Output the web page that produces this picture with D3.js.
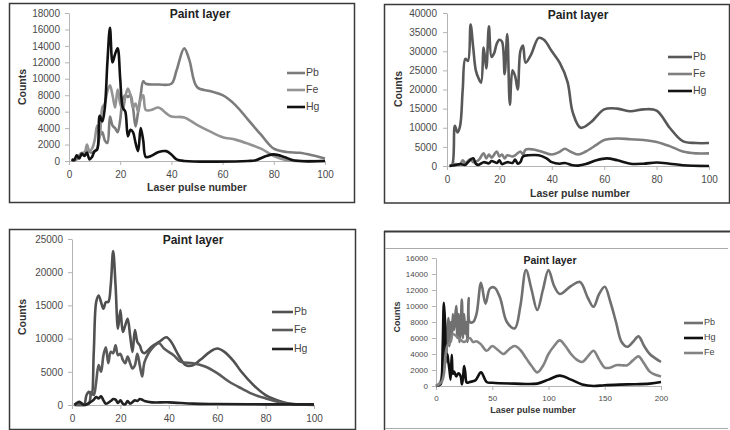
<!DOCTYPE html>
<html>
<head>
<meta charset="utf-8">
<script src="https://cdn.jsdelivr.net/npm/d3@7"></script>
<style>
  body { margin: 0; background: #fff; }
  svg { display: block; font-family: "Liberation Sans", Arial, sans-serif; }
</style>
</head>
<body>
<script>
/*
 * Four "Paint layer" panels: counts per laser pulse for Pb, Fe and Hg.
 */

const ELEMENTS_A = ['Pb', 'Fe', 'Hg'];
const ELEMENTS_D = ['Pb', 'Hg', 'Fe'];

// panel 1 (top left) - [pulse, counts]
const p1Pb = [[1,0],[3,200],[5,800],[7,1200],[9,1000],[11,1500],[12,3000],[13,3500],[14,2500],[15,2200],
  [16,5400],[17,4300],[18,4000],[19,3500],[20,5000],[21,7500],[22,8000],[23,7800],[24,8000],[25,6500],
  [26,4200],[27,6000],[28,8000],[29,9700],[30,9400],[35,9300],[40,9400],[42,11000],[45,13700],[47,12300],
  [50,9000],[55,8500],[60,8000],[65,6800],[70,5000],[75,3200],[80,1500],[85,1100],[90,1000],[95,700],[100,300]];
const p1Fe = [[1,100],[3,400],[5,1000],[6,800],[7,2000],[8,1200],[9,1500],[10,2500],[11,4300],[12,3000],
  [13,6500],[14,7000],[15,8500],[16,9200],[17,8000],[18,6500],[19,8700],[20,7000],[21,6200],[22,7800],
  [23,8800],[24,8000],[25,6500],[26,7000],[27,6000],[28,7500],[29,8000],[30,6200],[32,6200],[35,6500],
  [38,5800],[40,5400],[45,5300],[50,4400],[55,3600],[60,2900],[65,2600],[70,2100],[75,1500],[80,600],
  [85,100],[90,0],[100,0]];
const p1Hg = [[1,200],[2,100],[3,700],[4,300],[5,900],[6,600],[7,1000],[8,200],[9,500],[10,1200],
  [11,1400],[12,5500],[13,4800],[14,6500],[15,12000],[16,16200],[17,12000],[18,13000],[19,13700],[20,10000],
  [21,6500],[22,6000],[23,3000],[24,3800],[25,3500],[26,2200],[27,1200],[28,4000],[29,2500],[30,500],
  [32,600],[35,1100],[38,1200],[40,800],[42,200],[45,0],[70,0],[73,100],[77,600],[80,800],[84,500],
  [88,50],[100,0]];

// panel 2 (top right)
const p2Pb = [[1,0],[2,300],[3,10500],[4,8800],[5,10500],[6,20000],[7,28000],[8,27500],[9,37000],[10,31000],
  [11,25000],[12,23000],[13,21800],[14,31000],[15,25500],[16,36500],[17,28500],[18,29500],[19,32000],[20,33000],
  [21,32500],[22,24000],[23,34500],[24,16000],[25,25000],[26,23500],[27,20000],[28,30000],[29,31500],[30,27000],
  [32,29000],[35,33500],[37,33000],[40,30000],[43,27000],[46,22000],[48,14000],[51,10000],[55,11500],[60,14800],
  [65,15000],[70,14300],[75,14800],[80,14500],[85,10000],[90,6500],[95,6000],[100,6000]];
const p2Fe = [[1,0],[3,500],[5,500],[6,1500],[7,800],[9,1800],[10,1000],[12,1500],[14,3300],[15,2000],
  [16,3000],[17,2200],[19,3800],[20,2500],[21,3000],[22,2000],[23,2800],[25,2500],[26,2800],[28,3800],
  [29,3000],[30,4300],[33,4300],[36,3800],[40,3000],[43,3700],[45,4500],[47,3800],[50,3000],[53,3800],
  [57,5500],[60,6800],[65,7200],[70,7000],[75,6800],[80,6300],[85,5200],[90,3800],[95,3300],[100,3300]];
const p2Hg = [[1,0],[3,200],[5,500],[7,300],[8,1000],[10,2000],[11,600],[12,300],[14,1000],[16,700],
  [17,1300],[19,800],[20,1500],[21,500],[23,1000],[25,800],[26,1700],[27,600],[28,1000],[29,2500],
  [31,2800],[35,2800],[38,2000],[40,1000],[43,600],[45,800],[48,200],[50,100],[53,500],[57,1500],
  [61,2000],[65,1500],[70,600],[75,600],[80,900],[85,600],[90,200],[100,0]];

// panel 3 (bottom left)
const p3Pb = [[1,0],[3,300],[5,100],[6,1500],[7,2000],[8,1500],[9,8000],[10,15500],[11,16500],[12,15500],
  [13,14500],[14,15500],[15,15500],[16,18000],[17,23200],[18,18000],[19,11500],[20,14300],[21,11000],[22,12000],
  [23,13000],[24,10500],[25,8000],[26,11300],[27,9500],[28,9000],[29,8000],[30,7800],[33,8800],[36,9500],
  [39,10200],[41,9500],[44,7500],[47,6000],[50,6000],[53,6800],[57,8000],[60,8500],[63,8000],[67,6500],
  [70,5000],[75,3000],[80,1500],[85,700],[90,200],[95,100],[100,100]];
const p3Fe = [[1,0],[5,0],[7,200],[8,2000],[9,1500],[10,3500],[11,6000],[12,5000],[13,7500],[14,8700],
  [15,6300],[16,8000],[17,7800],[18,9000],[19,7500],[20,7700],[21,6800],[22,6300],[23,7300],[24,6300],
  [25,5500],[26,6000],[27,7700],[28,6000],[29,4300],[30,6500],[33,8500],[36,9300],[38,8500],[42,7500],
  [45,6500],[50,6300],[55,5800],[60,4800],[65,3500],[70,2500],[75,1600],[80,1000],[85,500],[90,200],[100,0]];
const p3Hg = [[1,0],[3,500],[5,0],[7,300],[9,800],[10,1200],[11,1000],[12,1300],[13,700],[14,200],
  [16,600],[17,900],[18,800],[19,300],[20,700],[21,200],[22,100],[23,600],[24,200],[26,700],
  [27,600],[28,900],[29,800],[30,600],[33,400],[40,400],[50,200],[60,150],[80,100],[100,100]];

// panel 4 (bottom right)
const p4Pb = [[0,0],[3,300],[5,1000],[6,3000],[7,8000],[8,6000],[9,3000],[10,7000],[11,8500],[12,5000],
  [13,8000],[14,6000],[15,9000],[16,7000],[17,8500],[18,10000],[19,6000],[20,9000],[21,5500],[22,7500],
  [23,10800],[24,6000],[25,9000],[26,6500],[27,8000],[28,5500],[29,11000],[30,8000],[33,8000],[36,9000],
  [40,12900],[44,10300],[48,12200],[52,12300],[57,11000],[63,8000],[70,7200],[75,10000],[80,14500],[85,12000],
  [90,9500],[95,12000],[100,14500],[105,12500],[110,11500],[120,12500],[128,13000],[135,11000],[140,9900],[145,11500],
  [150,12400],[155,10500],[160,8000],[165,5500],[170,4900],[175,5500],[180,6200],[185,5000],[190,4000],[200,3000]];
const p4Hg = [[0,0],[4,200],[5,800],[6,5000],[7,10400],[8,8000],[9,3500],[10,4000],[11,3000],[12,2000],
  [13,800],[14,3900],[15,1500],[16,1800],[17,1500],[18,1200],[20,1600],[22,1200],[23,200],[24,1000],
  [25,2500],[26,1700],[27,500],[28,400],[30,500],[35,700],[40,1700],[45,500],[50,400],[70,300],
  [90,300],[100,800],[110,1300],[120,800],[130,200],[140,0],[150,100],[170,200],[190,300],[200,500]];
const p4Fe = [[0,0],[5,500],[7,1500],[10,5000],[13,5500],[15,6500],[20,6000],[25,5500],[30,6000],[33,5500],
  [36,5600],[40,5200],[45,4400],[50,5000],[55,4500],[60,4000],[65,4600],[70,5000],[75,4500],[80,3500],
  [85,2500],[90,1700],[95,2500],[100,4000],[105,5000],[110,5700],[115,5000],[120,4000],[125,3300],[130,3000],
  [135,3700],[140,4400],[145,3300],[150,2300],[155,2300],[160,2600],[165,2600],[170,2600],[175,3200],[180,3700],
  [185,2800],[190,1800],[195,1400],[200,1200]];

// axis ticks
const TICKS_X100 = [0, 20, 40, 60, 80, 100];
const TICKS_X200 = [0, 50, 100, 150, 200];
const TICKS_Y18 = d3.range(0, 18001, 2000);
const TICKS_Y40 = d3.range(0, 40001, 5000);
const TICKS_Y25 = d3.range(0, 25001, 5000);
const TICKS_Y16 = d3.range(0, 16001, 2000);

const AXIS_COLOR = '#b4b4b4';
const LINE_WIDTH = 2.6;

const svg = d3.select('body')
  .append('svg')
    .attr('width', 730)
    .attr('height', 430);

/*
 * Frames round the panels.
 */

const addFrames = () => {
  const frame = (x, y, w, h) => svg.append('rect')
      .attr('x', x).attr('y', y).attr('width', w).attr('height', h)
      .attr('fill', 'none')
      .attr('stroke', '#3a3a3a')
      .attr('stroke-width', 1.5);

  frame(9.5, 3.5, 345, 199);
  frame(384.5, 4.5, 345, 198.5);
  frame(9.5, 229.5, 346, 200);

  // bottom right panel is cut off by the page, only some edges are seen
  svg.append('line')
      .attr('x1', 384).attr('x2', 730).attr('y1', 231.5).attr('y2', 231.5)
      .attr('stroke', '#3a3a3a').attr('stroke-width', 2);
  svg.append('line')
      .attr('x1', 384.5).attr('x2', 384.5).attr('y1', 231).attr('y2', 430)
      .attr('stroke', '#3a3a3a').attr('stroke-width', 1.5);
  svg.append('line')
      .attr('x1', 385).attr('x2', 728).attr('y1', 248.5).attr('y2', 248.5)
      .attr('stroke', '#aaa').attr('stroke-width', 1);
  svg.append('line')
      .attr('x1', 385).attr('x2', 728).attr('y1', 428.5).attr('y2', 428.5)
      .attr('stroke', '#aaa').attr('stroke-width', 1);
};

/*
 * Draws one panel: axes, lines, labels and legend.
 */

const drawPanel = p => {
  const g = svg.append('g');

  const xScale = d3.scaleLinear()
      .domain([p.xTicks[0], p.xTicks[p.xTicks.length - 1]])
      .range(p.xRange);
  const yScale = d3.scaleLinear()
      .domain([0, p.yTicks[p.yTicks.length - 1]])
      .range(p.yRange);

  // y axis
  const yAxis = g.append('g')
      .attr('transform', `translate(${p.xRange[0]}, 0)`)
      .call(d3.axisLeft(yScale)
        .tickValues(p.yTicks)
        .tickFormat(d3.format('d'))
        .tickSize(4)
        .tickPadding(p.tickPad)
        .tickSizeOuter(0));

  // x axis
  const xAxis = g.append('g')
      .attr('transform', `translate(0, ${p.yRange[0]})`)
      .call(d3.axisBottom(xScale)
        .tickValues(p.xTicks)
        .tickFormat(d3.format('d'))
        .tickSize(4)
        .tickPadding(p.tickPadX)
        .tickSizeOuter(0));

  [xAxis, yAxis].forEach(a => {
    a.selectAll('path, line').attr('stroke', AXIS_COLOR);
    a.selectAll('text')
        .attr('fill', '#4a4a4a')
        .attr('font-size', p.tickFont)
        .attr('font-family', '"Liberation Sans", Arial, sans-serif');
  });

  // data lines
  const line = d3.line()
      .x(d => xScale(d[0]))
      .y(d => yScale(d[1]))
      .curve(d3.curveCatmullRom.alpha(0.5));

  p.series.forEach(s => {
    g.append('path')
        .datum(s.values)
        .attr('d', line)
        .attr('fill', 'none')
        .attr('stroke', s.color)
        .attr('stroke-width', LINE_WIDTH)
        .attr('stroke-linejoin', 'round');
  });

  // title
  g.append('text')
      .attr('x', p.title[0])
      .attr('y', p.title[1])
      .attr('text-anchor', 'middle')
      .attr('dominant-baseline', 'middle')
      .attr('font-size', p.titleFont)
      .attr('font-weight', 'bold')
      .attr('fill', '#222')
      .text('Paint layer');

  // axis titles
  g.append('text')
      .attr('transform', `translate(${p.yTitle[0]}, ${p.yTitle[1]}) rotate(-90)`)
      .attr('text-anchor', 'middle')
      .attr('dominant-baseline', 'middle')
      .attr('font-size', p.labelFont)
      .attr('font-weight', 'bold')
      .attr('fill', '#333')
      .text('Counts');

  if (p.xTitle) {
    g.append('text')
        .attr('x', p.xTitle[0])
        .attr('y', p.xTitle[1])
        .attr('text-anchor', 'middle')
        .attr('dominant-baseline', 'middle')
        .attr('font-size', p.labelFont)
        .attr('font-weight', 'bold')
        .attr('fill', '#333')
        .text('Laser pulse number');
  }

  // legend
  p.series.forEach((s, i) => {
    const y = p.legend.rows[i];
    g.append('line')
        .attr('x1', p.legend.x1).attr('x2', p.legend.x2)
        .attr('y1', y).attr('y2', y)
        .attr('stroke', s.color)
        .attr('stroke-width', LINE_WIDTH);
    g.append('text')
        .attr('x', p.legend.x2 + 1)
        .attr('y', y)
        .attr('dominant-baseline', 'middle')
        .attr('font-size', p.legend.font)
        .attr('fill', '#444')
        .text(s.name);
  });
};

addFrames();

drawPanel({
  xRange: [69, 325], yRange: [161, 13],
  xTicks: TICKS_X100, yTicks: TICKS_Y18,
  tickFont: 10, tickPad: 5, tickPadX: 6, titleFont: 12, labelFont: 10.5,
  title: [200, 15], yTitle: [23, 87], xTitle: [197, 188],
  legend: { x1: 287, x2: 305, rows: [73, 90, 107], font: 10.5 },
  series: [
    { name: ELEMENTS_A[0], values: p1Pb, color: '#7c7c7c' },
    { name: ELEMENTS_A[1], values: p1Fe, color: '#939393' },
    { name: ELEMENTS_A[2], values: p1Hg, color: '#111' }
  ]
});

drawPanel({
  xRange: [447, 709], yRange: [166, 13],
  xTicks: TICKS_X100, yTicks: TICKS_Y40,
  tickFont: 10, tickPad: 6, tickPadX: 6, titleFont: 12, labelFont: 10.5,
  title: [578, 16], yTitle: [399, 89], xTitle: [580, 194],
  legend: { x1: 668, x2: 692, rows: [57, 74, 91], font: 10.5 },
  series: [
    { name: ELEMENTS_A[0], values: p2Pb, color: '#585858' },
    { name: ELEMENTS_A[1], values: p2Fe, color: '#7f7f7f' },
    { name: ELEMENTS_A[2], values: p2Hg, color: '#141414' }
  ]
});

drawPanel({
  xRange: [72, 314], yRange: [405, 239],
  xTicks: TICKS_X100, yTicks: TICKS_Y25,
  tickFont: 10, tickPad: 5, tickPadX: 6, titleFont: 12, labelFont: 10.5,
  title: [193, 241], yTitle: [23, 317], xTitle: null,
  legend: { x1: 272, x2: 293, rows: [312, 330, 349], font: 10.5 },
  series: [
    { name: ELEMENTS_A[0], values: p3Pb, color: '#505050' },
    { name: ELEMENTS_A[1], values: p3Fe, color: '#5a5a5a' },
    { name: ELEMENTS_A[2], values: p3Hg, color: '#222' }
  ]
});

drawPanel({
  xRange: [436, 661], yRange: [386, 258],
  xTicks: TICKS_X200, yTicks: TICKS_Y16,
  tickFont: 8, tickPad: 4, tickPadX: 5, titleFont: 10.5, labelFont: 9,
  title: [550, 261], yTitle: [398, 317], xTitle: [533, 411],
  legend: { x1: 684, x2: 703, rows: [323, 338, 353], font: 9 },
  series: [
    { name: ELEMENTS_D[0], values: p4Pb, color: '#707070' },
    { name: ELEMENTS_D[1], values: p4Hg, color: '#111' },
    { name: ELEMENTS_D[2], values: p4Fe, color: '#838383' }
  ]
});
</script>
</body>
</html>
